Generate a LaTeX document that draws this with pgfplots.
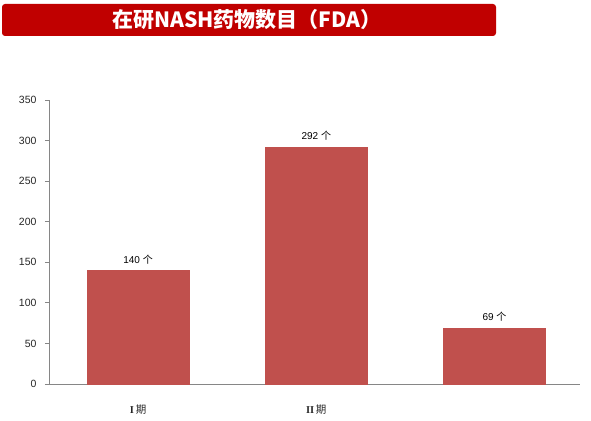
\documentclass[border=0pt]{standalone}
\usepackage{pgfplots}
\pgfplotsset{compat=1.18}
\usepackage{fontspec}
\setmainfont{Liberation Sans}
\newfontfamily\cjk{Noto Sans CJK SC}
\newfontfamily\serif{Liberation Serif}
\definecolor{barred}{HTML}{C0504D}
\definecolor{banner}{HTML}{C00000}
\definecolor{axgray}{HTML}{868686}

\begin{document}
\begin{tikzpicture}[x=1pt,y=1pt]
  \useasboundingbox (0,0) rectangle (591,420);
  % title banner
  \fill[banner, rounded corners=3pt] (2,384) rectangle (496,416);
  \node[text=white, font=\cjk\bfseries\fontsize{21}{21}\selectfont] at (247,400) {在研NASH药物数目（FDA）};

  \begin{axis}[
      at={(49pt,36pt)}, anchor=south west,
      scale only axis,
      width=531pt, height=284pt,
      xmin=-0.5, xmax=2.48,
      ymin=0, ymax=350,
      ytick distance=50,
      axis x line=bottom, axis y line=left,
      axis line style={-, axgray, line width=0.9pt},
      xtick={0,1,2},
      xticklabels={{\serif\bfseries I\,}{\cjk 期}, {\serif\bfseries II\,}{\cjk 期}, {}},
      xticklabel style={font=\fontsize{10.5}{10.5}\selectfont, yshift=-13pt, text=black!85},
      major x tick style={draw=none},
      tick style={axgray, line width=0.8pt},
      major tick length=4pt,
      ytick pos=left, tick align=outside,
      yticklabel style={font=\fontsize{10.5}{10.5}\selectfont, xshift=-5pt, text=black!85},
      /pgf/number format/assume math mode=true,
      ybar, bar width=102pt,
      nodes near coords={\pgfmathprintnumber{\pgfplotspointmeta}\ {\cjk 个}},
      nodes near coords style={font=\fontsize{10}{10}\selectfont, black, yshift=3pt},
      clip=false,
    ]
    \addplot[fill=barred, draw=barred] coordinates {(0,140) (1,292) (2,69)};
  \end{axis}
\end{tikzpicture}
\end{document}
